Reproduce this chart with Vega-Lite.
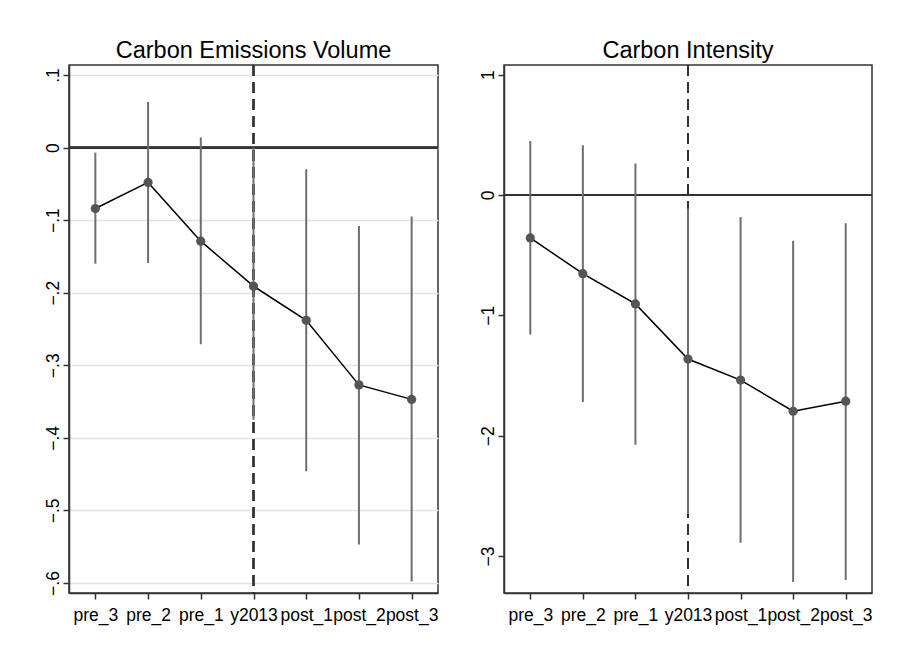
{
  "$schema": "https://vega.github.io/schema/vega-lite/v6.json",
  "background": "white",
  "padding": {"left": 28, "top": 38, "right": 10, "bottom": 8},
  "spacing": 23,
  "config": {
    "font": "Liberation Sans",
    "view": {"stroke": "#333333", "strokeWidth": 1.5},
    "axis": {
      "labelFont": "Liberation Sans",
      "labelFontSize": 17.5,
      "labelColor": "#000000",
      "domainColor": "#333333",
      "domainWidth": 1.5,
      "tickColor": "#333333",
      "tickWidth": 1.5,
      "tickSize": 6,
      "title": null
    },
    "title": {"font": "Liberation Sans", "fontSize": 23.5, "fontWeight": "normal", "color": "#000000", "anchor": "middle", "offset": 2}
  },
  "datasets": {
    "volume": [
      {"period": "pre_3", "coef": -0.084, "lo": -0.160, "hi": -0.007},
      {"period": "pre_2", "coef": -0.048, "lo": -0.159, "hi": 0.063},
      {"period": "pre_1", "coef": -0.129, "lo": -0.271, "hi": 0.014},
      {"period": "y2013", "coef": -0.191, "lo": -0.375, "hi": 0.000},
      {"period": "post_1", "coef": -0.238, "lo": -0.446, "hi": -0.030},
      {"period": "post_2", "coef": -0.327, "lo": -0.547, "hi": -0.108},
      {"period": "post_3", "coef": -0.347, "lo": -0.598, "hi": -0.095}
    ],
    "intensity": [
      {"period": "pre_3", "coef": -0.357, "lo": -1.160, "hi": 0.448},
      {"period": "pre_2", "coef": -0.654, "lo": -1.720, "hi": 0.413},
      {"period": "pre_1", "coef": -0.905, "lo": -2.076, "hi": 0.262},
      {"period": "y2013", "coef": -1.363, "lo": -2.650, "hi": -0.112},
      {"period": "post_1", "coef": -1.538, "lo": -2.890, "hi": -0.182},
      {"period": "post_2", "coef": -1.797, "lo": -3.216, "hi": -0.381},
      {"period": "post_3", "coef": -1.713, "lo": -3.198, "hi": -0.234}
    ]
  },
  "hconcat": [
    {
      "title": "Carbon Emissions Volume",
      "width": 369,
      "height": 528,
      "data": {"name": "volume"},
      "encoding": {
        "x": {
          "field": "period", "type": "ordinal",
          "scale": {"type": "point", "padding": 0.5, "domain": ["pre_3", "pre_2", "pre_1", "y2013", "post_1", "post_2", "post_3"]},
          "axis": {"labelAngle": 0, "labelPadding": 7, "labelOverlap": false, "grid": false}
        }
      },
      "layer": [
        {
          "mark": {"type": "rule", "color": "#333333", "strokeWidth": 1.6},
          "encoding": {"y": {"datum": 0, "type": "quantitative"}, "x": null}
        },
        {
          "mark": {"type": "rule", "color": "#333333", "strokeWidth": 1.5, "strokeDash": [11, 6]},
          "encoding": {"x": {"datum": "y2013", "type": "ordinal"}}
        },
        {
          "mark": {"type": "rule", "color": "#6e6e6e", "strokeWidth": 2},
          "encoding": {
            "y": {"field": "lo", "type": "quantitative"},
            "y2": {"field": "hi"}
          }
        },
        {
          "mark": {"type": "line", "color": "#000000", "strokeWidth": 1.5},
          "encoding": {"y": {"field": "coef", "type": "quantitative"}}
        },
        {
          "mark": {"type": "point", "filled": true, "shape": "circle", "size": 85, "color": "#555555", "opacity": 1},
          "encoding": {
            "y": {
              "field": "coef", "type": "quantitative",
              "scale": {"domain": [-0.6138, 0.1138], "nice": false, "zero": false},
              "axis": {
                "values": [-0.6, -0.5, -0.4, -0.3, -0.2, -0.1, 0, 0.1],
                "labelExpr": "datum.value == 0 ? '0' : replace(format(datum.value, '.1f'), '0.', '.')",
                "labelAngle": -90, "labelAlign": "center", "labelBaseline": "alphabetic",
                "labelPadding": 5, "minExtent": 40, "maxExtent": 40,
                "grid": true, "gridColor": "#e3e3e3", "gridWidth": 1.5
              }
            }
          }
        }
      ]
    },
    {
      "title": "Carbon Intensity",
      "width": 368,
      "height": 528,
      "data": {"name": "intensity"},
      "encoding": {
        "x": {
          "field": "period", "type": "ordinal",
          "scale": {"type": "point", "padding": 0.5, "domain": ["pre_3", "pre_2", "pre_1", "y2013", "post_1", "post_2", "post_3"]},
          "axis": {"labelAngle": 0, "labelPadding": 7, "labelOverlap": false, "grid": false}
        }
      },
      "layer": [
        {
          "mark": {"type": "rule", "color": "#333333", "strokeWidth": 1.3},
          "encoding": {"y": {"datum": 0, "type": "quantitative"}, "x": null}
        },
        {
          "mark": {"type": "rule", "color": "#333333", "strokeWidth": 1.5, "strokeDash": [11, 6]},
          "encoding": {"x": {"datum": "y2013", "type": "ordinal"}}
        },
        {
          "mark": {"type": "rule", "color": "#6e6e6e", "strokeWidth": 2},
          "encoding": {
            "y": {"field": "lo", "type": "quantitative"},
            "y2": {"field": "hi"}
          }
        },
        {
          "mark": {"type": "line", "color": "#000000", "strokeWidth": 1.5},
          "encoding": {"y": {"field": "coef", "type": "quantitative"}}
        },
        {
          "mark": {"type": "point", "filled": true, "shape": "circle", "size": 85, "color": "#555555", "opacity": 1},
          "encoding": {
            "y": {
              "field": "coef", "type": "quantitative",
              "scale": {"domain": [-3.307, 1.08], "nice": false, "zero": false},
              "axis": {
                "values": [-3, -2, -1, 0, 1],
                "format": "d",
                "labelAngle": -90, "labelAlign": "center", "labelBaseline": "alphabetic",
                "labelPadding": 5, "minExtent": 40, "maxExtent": 40,
                "grid": false
              }
            }
          }
        }
      ]
    }
  ]
}
